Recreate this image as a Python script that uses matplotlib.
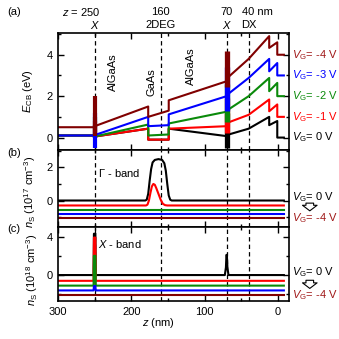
import matplotlib
matplotlib.use('Agg')
import matplotlib.pyplot as plt
from matplotlib.ticker import MultipleLocator
from matplotlib.transforms import blended_transform_factory

plt.rcParams['font.family'] = ['Liberation Sans', 'DejaVu Sans']
plt.rcParams['mathtext.fontset'] = 'custom'
plt.rcParams['mathtext.rm'] = 'Liberation Sans'
plt.rcParams['mathtext.it'] = 'Liberation Sans:italic'
plt.rcParams['font.size'] = 8

# gate voltages, order V_G = 0 ... -4 V
vg_values = ['0', '-1', '-2', '-3', '-4']
colors = ['black', '#ff0000', '#0a8a0a', '#0000ff', '#800000']
text_colors = ['black', '#ff0000', '#0a8a0a', '#0000ff', '#a01818']

# marked positions (nm)
z_marks = [250, 160, 70, 40]

# (a) conduction band edge E_CB (eV) vs z (nm)
za = [300, 250, 250, 177, 177, 149, 149, 70, 70, 40, 12, 12, 1, 1, -8]
ecb_0 = [0.1, 0.1, 0.05, 0.43, -0.1, -0.1, 0.43, 0.07, 0.12, 0.43, 1.0, 0.6, 0.8, 0.0, 0.0]
ecb_1 = [0.1, 0.1, 0.05, 0.43, -0.1, -0.1, 0.43, 0.55, 0.7, 1.1, 1.84, 1.27, 1.6, 1.0, 1.0]
ecb_2 = [0.1, 0.1, 0.05, 0.63, 0.1, 0.15, 0.68, 1.25, 1.3, 2.0, 2.88, 2.24, 2.64, 2.0, 2.0]
ecb_3 = [0.1, 0.1, 0.12, 1.0, 0.55, 0.6, 1.12, 2.0, 2.05, 2.88, 3.8, 3.2, 3.6, 3.0, 3.0]
ecb_4 = [0.5, 0.5, 0.55, 1.5, 1.0, 1.3, 1.8, 2.72, 2.85, 3.8, 4.9, 4.33, 4.6, 4.0, 4.0]
ecb = [ecb_0, ecb_1, ecb_2, ecb_3, ecb_4]

# X-valley spikes in (a): low / high ends at z = 250 and z = 70
spike250_lo = [0.0, 0.0, 0.0, -0.5, 0.1]
spike250_hi = [0.6, 0.8, 1.0, 1.2, 2.0]
spike70_lo = [-0.5, 0.2, 0.75, 1.3, 2.45]
spike70_hi = [1.2, 1.9, 2.6, 3.4, 4.2]

# (b) Gamma-band density (1e17 cm^-3), curves offset
zb_0 = [300, 181, 179, 177, 175, 173, 171, 168, 163, 158, 155, 153, 151, 149, 147, 145, -8]
nb_0 = [0, 0, 0.05, 0.4, 1.2, 1.9, 2.3, 2.45, 2.5, 2.45, 2.25, 1.8, 1.0, 0.3, 0.05, 0, 0]
zb_1 = [300, 180, 178, 176, 174, 172, 170, 168, 166, 163, 160, 157, 154, 151, -8]
nb_1 = [-0.3, -0.3, -0.25, 0.0, 0.45, 0.85, 1.0, 0.95, 0.75, 0.4, 0.05, -0.2, -0.28, -0.3, -0.3]
zb_flat = [300, -8]
nb_2 = [-0.55, -0.55]
nb_3 = [-0.82, -0.82]
nb_4 = [-1.08, -1.08]

# (c) X-band density (1e18 cm^-3), curves offset
zc_0 = [300, 251.5, 251, 249, 248.5, 72.5, 71, 70.3, 69.7, 69, 67.5, -8]
nc_0 = [0, 0, 4.3, 4.3, 0, 0, 0.8, 2.1, 2.1, 0.8, 0, 0]
zc_spike = [300, 251.5, 251, 249, 248.5, -8]
nc_1 = [-0.6, -0.6, 3.9, 3.9, -0.6, -0.6]
nc_2 = [-1.1, -1.1, 2.0, 2.0, -1.1, -1.1]
nc_3 = [-1.6, -1.6, -1.15, -1.15, -1.6, -1.6]
zc_flat = [300, -8]
nc_4 = [-2.1, -2.1]

fig = plt.figure(figsize=(3.39, 3.39), dpi=100)
L, W = 58 / 339, 231 / 339
ax_a = fig.add_axes([L, 1 - 150 / 339, W, 117 / 339])
ax_b = fig.add_axes([L, 1 - 227 / 339, W, 77 / 339])
ax_c = fig.add_axes([L, 1 - 301 / 339, W, 74 / 339])
axes = [ax_a, ax_b, ax_c]

for ax in axes:
    ax.set_xlim(300, -15)
    ax.xaxis.set_major_locator(MultipleLocator(100))
    ax.xaxis.set_minor_locator(MultipleLocator(50))
    ax.tick_params(which='both', direction='in', top=True, right=True, width=1)
    ax.tick_params(which='major', length=4, pad=4)
    ax.tick_params(which='minor', length=2.5)
    for s in ax.spines.values():
        s.set_linewidth(1.2)
    for zm in z_marks:
        ax.axvline(zm, color='black', lw=0.9, ls=(0, (3.5, 2.5)), zorder=1)
ax_a.tick_params(labelbottom=False)
ax_b.tick_params(labelbottom=False)

# ---- (a)
for i in range(5):
    ax_a.plot(za, ecb[i], color=colors[i], lw=1.5, zorder=2)
    ax_a.vlines(250, spike250_lo[i], spike250_hi[i], color=colors[i], lw=3, zorder=2)
    ax_a.vlines(70, spike70_lo[i], spike70_hi[i], color=colors[i], lw=3.8, zorder=2)
ax_a.set_ylim(-0.6, 5.05)
ax_a.yaxis.set_major_locator(MultipleLocator(2))
ax_a.yaxis.set_minor_locator(MultipleLocator(1))
ax_a.set_ylabel(r'$E_{\rm CB}$ (eV)')
ax_a.yaxis.set_label_coords(-0.1, 0.5)

tr_a = blended_transform_factory(ax_a.transAxes, ax_a.transData)
for i in range(5):
    ax_a.text(1.015, ecb[i][-1], r'$V_{\rm G}$= %s V' % vg_values[i], color=text_colors[i],
              transform=tr_a, va='center', ha='left')

ax_a.text(225, 3.14, 'AlGaAs', rotation=90, ha='center', va='center')
ax_a.text(172, 2.7, 'GaAs', rotation=90, ha='center', va='center')
ax_a.text(118, 3.43, 'AlGaAs', rotation=90, ha='center', va='center')

# labels above the dashed lines
ax_a.annotate(r'$z$ = 250', xy=(250, 0.965), xycoords=('data', 'figure fraction'),
              xytext=(4, 0), textcoords='offset points', ha='right', va='center')
ax_a.annotate('160', xy=(160, 0.965), xycoords=('data', 'figure fraction'), ha='center', va='center')
ax_a.annotate('70', xy=(70, 0.965), xycoords=('data', 'figure fraction'), ha='center', va='center')
ax_a.annotate('40 nm', xy=(40, 0.965), xycoords=('data', 'figure fraction'),
              xytext=(-5, 0), textcoords='offset points', ha='left', va='center')
ax_a.annotate(r'$X$', xy=(250, 0.926), xycoords=('data', 'figure fraction'), ha='center', va='center')
ax_a.annotate('2DEG', xy=(160, 0.926), xycoords=('data', 'figure fraction'), ha='center', va='center')
ax_a.annotate(r'$X$', xy=(70, 0.926), xycoords=('data', 'figure fraction'), ha='center', va='center')
ax_a.annotate('DX', xy=(40, 0.926), xycoords=('data', 'figure fraction'), ha='center', va='center')

# ---- (b)
ax_b.plot(zb_0, nb_0, color=colors[0], lw=1.5)
ax_b.plot(zb_1, nb_1, color=colors[1], lw=1.5)
ax_b.plot(zb_flat, nb_2, color=colors[2], lw=1.5)
ax_b.plot(zb_flat, nb_3, color=colors[3], lw=1.5)
ax_b.plot(zb_flat, nb_4, color=colors[4], lw=1.5)
ax_b.set_ylim(-1.6, 3.05)
ax_b.yaxis.set_major_locator(MultipleLocator(2))
ax_b.yaxis.set_minor_locator(MultipleLocator(1))
ax_b.set_ylabel(r'$n_{\rm S}$ (10$^{17}$ cm$^{-3}$)')
ax_b.yaxis.set_label_coords(-0.085, 0.45)
ax_b.text(245, 1.66, r'$\mathit{\Gamma}$ - band', ha='left', va='center')

# ---- (c)
ax_c.plot(zc_0, nc_0, color=colors[0], lw=1.5)
ax_c.plot(zc_spike, nc_1, color=colors[1], lw=1.5)
ax_c.plot(zc_spike, nc_2, color=colors[2], lw=1.5)
ax_c.plot(zc_spike, nc_3, color=colors[3], lw=1.5)
ax_c.plot(zc_flat, nc_4, color=colors[4], lw=1.5)
ax_c.set_ylim(-2.7, 5.0)
ax_c.yaxis.set_major_locator(MultipleLocator(4))
ax_c.yaxis.set_minor_locator(MultipleLocator(2))
ax_c.set_ylabel(r'$n_{\rm S}$ (10$^{18}$ cm$^{-3}$)')
ax_c.yaxis.set_label_coords(-0.08, 0.42)
ax_c.text(245, 3.2, r'$X$ - band', ha='left', va='center')
ax_c.set_xlabel(r'$z$ (nm)')
ax_c.xaxis.set_label_coords(0.433, -0.2)

# V_G range markers beside (b) and (c)
for ax, ytop, yarr, ybot in [(ax_b, 0.39, (0.31, 0.21), 0.117), (ax_c, 0.39, (0.28, 0.17), 0.08)]:
    ax.text(1.013, ytop, r'$V_{\rm G}$= 0 V', color='black', transform=ax.transAxes,
            ha='left', va='center')
    ax.text(1.013, ybot, r'$V_{\rm G}$= -4 V', color=text_colors[4], transform=ax.transAxes,
            ha='left', va='center')
    ax.annotate('', xy=(1.09, yarr[1]), xytext=(1.09, yarr[0]), xycoords='axes fraction',
                annotation_clip=False,
                arrowprops=dict(arrowstyle='simple,head_width=1.05,head_length=0.4,tail_width=0.55',
                                fc='white', ec='black', lw=0.8, mutation_scale=10,
                                shrinkA=0, shrinkB=0))

fig.text(0.022, 0.965, '(a)', ha='left', va='center')
fig.text(0.022, 0.549, '(b)', ha='left', va='center')
fig.text(0.022, 0.324, '(c)', ha='left', va='center')

fig.savefig('out.png', dpi=100)
